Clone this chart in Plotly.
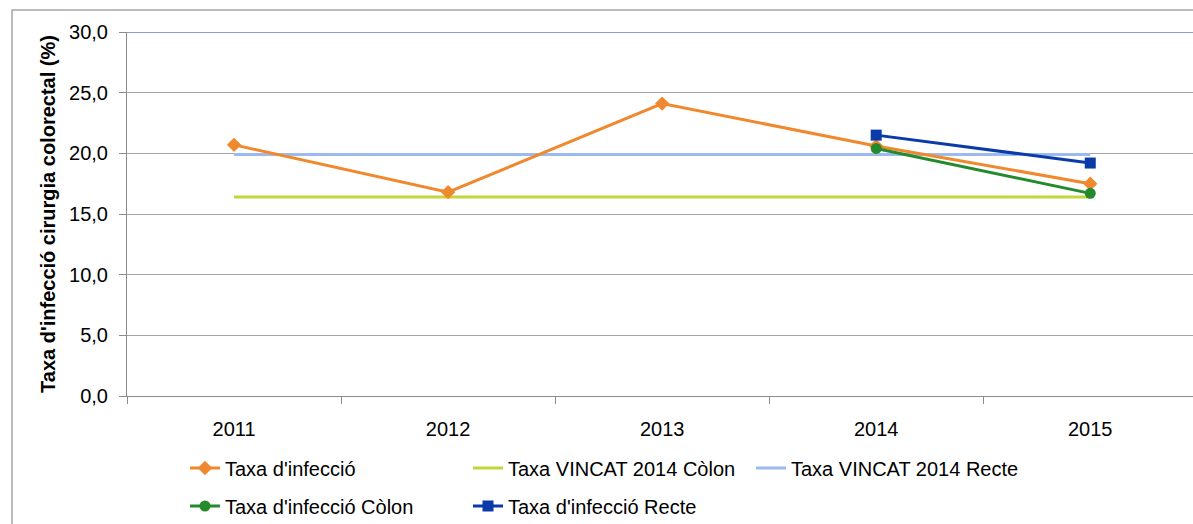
import plotly.graph_objects as go

years = ["2011", "2012", "2013", "2014", "2015"]
taxa_infeccio = [20.7, 16.8, 24.1, 20.6, 17.5]
vincat_colon = [16.4, 16.4, 16.4, 16.4, 16.4]
vincat_recte = [19.9, 19.9, 19.9, 19.9, 19.9]
infeccio_colon = [None, None, None, 20.4, 16.7]
infeccio_recte = [None, None, None, 21.5, 19.2]
y_ticks = [0, 5, 10, 15, 20, 25, 30]
y_tick_labels = ["0,0", "5,0", "10,0", "15,0", "20,0", "25,0", "30,0"]

FONT = "Liberation Sans, Arial, sans-serif"

fig = go.Figure()

fig.add_trace(go.Scatter(
    x=years, y=vincat_colon, name="Taxa VINCAT 2014 Còlon", mode="lines",
    line=dict(color="#C4D63A", width=3), legend="legend", legendrank=2))
fig.add_trace(go.Scatter(
    x=years, y=vincat_recte, name="Taxa VINCAT 2014 Recte", mode="lines",
    line=dict(color="#9DBAF0", width=3), legend="legend", legendrank=3))
fig.add_trace(go.Scatter(
    x=years, y=taxa_infeccio, name="Taxa d'infecció", mode="lines+markers",
    line=dict(color="#F0882E", width=3),
    marker=dict(symbol="diamond", size=11, color="#F0882E"),
    legend="legend", legendrank=1))
fig.add_trace(go.Scatter(
    x=years, y=infeccio_colon, name="Taxa d'infecció Còlon", mode="lines+markers",
    line=dict(color="#248A2C", width=3),
    marker=dict(symbol="circle", size=11, color="#248A2C"),
    legend="legend2", legendrank=1))
fig.add_trace(go.Scatter(
    x=years, y=infeccio_recte, name="Taxa d'infecció Recte", mode="lines+markers",
    line=dict(color="#0A3BA8", width=3),
    marker=dict(symbol="square", size=11, color="#0A3BA8"),
    legend="legend2", legendrank=2))

plot_h = 524 - 32 - 128
plot_w = 1193 - 127

def px_x(px):
    return (px - 127) / plot_w

def px_y(py):
    return (396 - py) / plot_h

legend_common = dict(
    orientation="h", xanchor="left", yanchor="middle",
    font=dict(family=FONT, size=20, color="#000000"),
    bgcolor="rgba(0,0,0,0)", entrywidth=238, entrywidthmode="pixels",
    itemclick=False, itemdoubleclick=False,
)

fig.update_layout(
    width=1193, height=524,
    margin=dict(l=127, r=0, t=32, b=128, autoexpand=False),
    paper_bgcolor="white", plot_bgcolor="white",
    font=dict(family=FONT, size=20, color="#000000"),
    showlegend=True,
    legend=dict(x=px_x(185), y=px_y(468), **legend_common),
    legend2=dict(x=px_x(185), y=px_y(506), **legend_common),
    xaxis=dict(
        type="category", categoryorder="array", categoryarray=years,
        range=[-0.5, 4.48], tickson="boundaries", ticks="outside",
        ticklen=7, tickcolor="#8C8C8C", showline=True, linecolor="#8C8C8C",
        linewidth=1, showgrid=False, zeroline=False,
        tickfont=dict(family=FONT, size=20), ticklabelstandoff=15,
    ),
    yaxis=dict(
        range=[0, 30], tickvals=y_ticks, ticktext=y_tick_labels,
        ticks="outside", ticklen=7, tickcolor="#8C8C8C",
        showline=True, linecolor="#8C8C8C", linewidth=1,
        showgrid=True, gridcolor="#A6A6A6", gridwidth=1, zeroline=False,
        tickfont=dict(family=FONT, size=20), ticklabelstandoff=7,
        title=dict(text="<b>Taxa d'infecció cirurgia colorectal (%)</b>",
                   font=dict(family=FONT, size=20), standoff=8),
    ),
    shapes=[
        dict(type="line", xref="paper", yref="y", x0=0, x1=1, y0=30, y1=30,
             line=dict(color="#24408E", width=1), layer="above"),
        dict(type="rect", xref="paper", yref="paper",
             x0=px_x(12), x1=1.05, y0=px_y(560), y1=px_y(10),
             line=dict(color="#A6A6A6", width=1.5), layer="below"),
    ],
)

fig.write_html(
    "out.html",
    config={"displayModeBar": False},
    post_script="document.body.style.margin='0';document.body.style.overflow='hidden';",
)
